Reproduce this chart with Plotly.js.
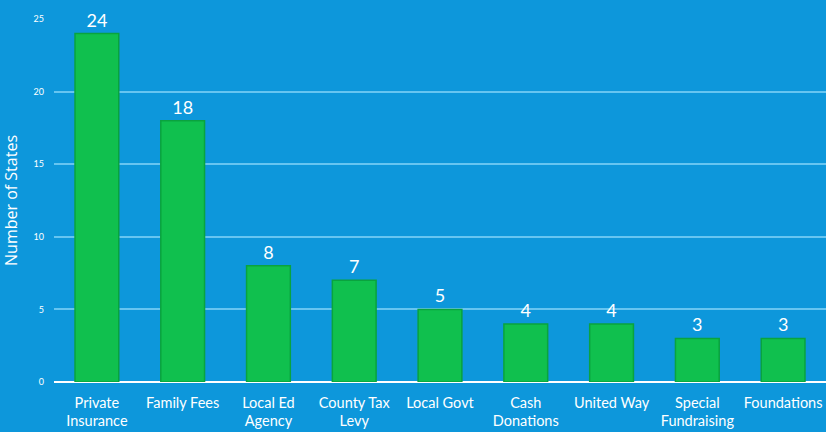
<!DOCTYPE html>
<html><head><meta charset="utf-8">
<script src="https://cdn.plot.ly/plotly-3.0.1.min.js"></script>
<style>html,body{margin:0;padding:0;background:#0d97db;}</style>
</head><body>
<div id="chart" style="width:826px;height:432px;"></div>
<script>
const categories = ["Private<br>Insurance","Family Fees","Local Ed<br>Agency","County Tax<br>Levy","Local Govt","Cash<br>Donations","United Way","Special<br>Fundraising","Foundations"];
const values = [24,18,8,7,5,4,4,3,3];
const yTicks = [0,5,10,15,20,25];

const trace = {
  type: "bar",
  x: categories,
  y: values,
  text: values.map(String),
  textposition: "outside",
  cliponaxis: false,
  textfont: {family: "Lato, Open Sans, sans-serif", size: 18, color: "#ffffff"},
  marker: {color: "#10c04e", line: {color: "#0aa33e", width: 1.5}},
  hoverinfo: "none"
};

const layout = {
  width: 826, height: 432,
  margin: {l: 54, r: 0, t: 19, b: 50},
  paper_bgcolor: "#0d97db",
  plot_bgcolor: "#0d97db",
  bargap: 0.49,
  showlegend: false,
  font: {family: "Lato, Open Sans, sans-serif", color: "#ffffff"},
  xaxis: {
    tickfont: {size: 14.5, color: "#ffffff"},
    showgrid: false, zeroline: false,
    showline: false, ticks: "",
    ticklabelstandoff: 10,
    automargin: false
  },
  yaxis: {
    range: [0, 25],
    tickvals: yTicks,
    ticktext: yTicks.map(String),
    tickfont: {size: 9, color: "#ffffff"},
    showgrid: true, gridcolor: "#66c5f1", gridwidth: 2,
    zeroline: true, zerolinecolor: "#ffffff", zerolinewidth: 2.5,
    ticks: "", ticklabelstandoff: 9,
    title: {text: "Number of States", font: {family: "Open Sans, sans-serif", size: 16, color: "#ffffff"}, standoff: 13},
    automargin: false
  }
};
Plotly.newPlot("chart", [trace], layout, {displayModeBar: false, staticPlot: true});
</script>
</body></html>
